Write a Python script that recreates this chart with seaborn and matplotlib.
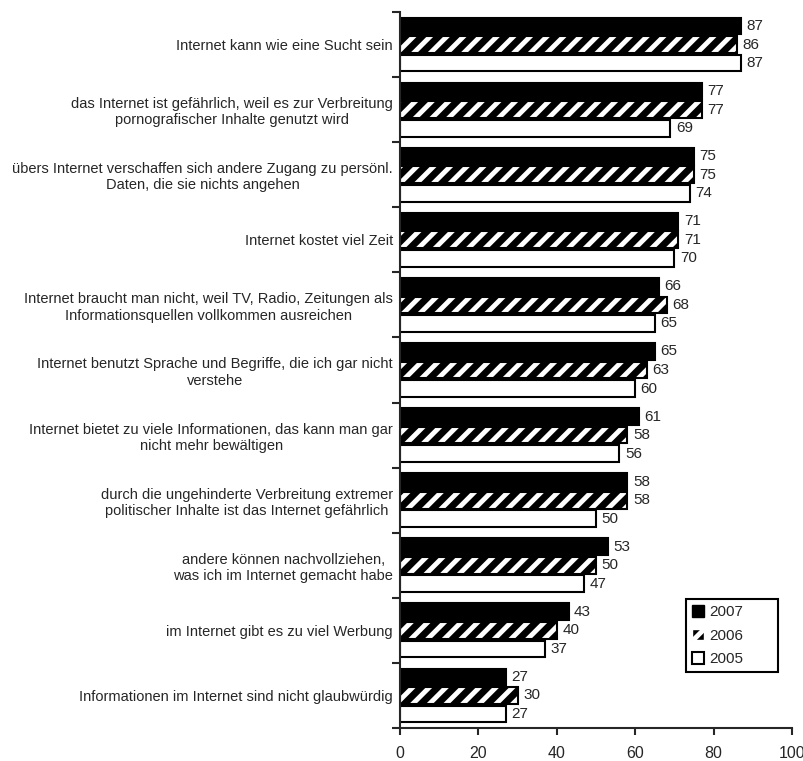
import matplotlib
matplotlib.use("Agg")
import matplotlib.pyplot as plt
from matplotlib.patches import Patch, Rectangle
import seaborn as sns
import pandas as pd

# data (percent)
labels = [
    "Internet kann wie eine Sucht sein",
    "das Internet ist gefährlich, weil es zur Verbreitung\npornografischer Inhalte genutzt wird",
    "übers Internet verschaffen sich andere Zugang zu persönl.\nDaten, die sie nichts angehen",
    "Internet kostet viel Zeit",
    "Internet braucht man nicht, weil TV, Radio, Zeitungen als\nInformationsquellen vollkommen ausreichen",
    "Internet benutzt Sprache und Begriffe, die ich gar nicht\nverstehe",
    "Internet bietet zu viele Informationen, das kann man gar\nnicht mehr bewältigen",
    "durch die ungehinderte Verbreitung extremer\npolitischer Inhalte ist das Internet gefährlich",
    "andere können nachvollziehen,\nwas ich im Internet gemacht habe",
    "im Internet gibt es zu viel Werbung",
    "Informationen im Internet sind nicht glaubwürdig",
]
v2007 = [87, 77, 75, 71, 66, 65, 61, 58, 53, 43, 27]
v2006 = [86, 77, 75, 71, 68, 63, 58, 58, 50, 40, 30]
v2005 = [87, 69, 74, 70, 65, 60, 56, 50, 47, 37, 27]
years = ["2007", "2006", "2005"]

df = pd.DataFrame({
    "item": labels * 3,
    "wert": v2007 + v2006 + v2005,
    "jahr": ["2007"] * 11 + ["2006"] * 11 + ["2005"] * 11,
})

sns.set_style("ticks")
plt.rcParams["font.family"] = ["Liberation Sans", "DejaVu Sans"]
plt.rcParams["hatch.linewidth"] = 3.5

fig = plt.figure(figsize=(8.04, 7.61), dpi=100)
ax = fig.add_axes([0.4975, 0.0434, 0.4875, 0.9408])

sns.barplot(data=df, y="item", x="wert", hue="jahr", hue_order=years,
            palette=["black", "black", "white"], order=labels,
            width=0.855, orient="h", ax=ax, legend=False)

# styling per year: solid black, white stripes on black, white
for cont, yr in zip(ax.containers, years):
    for bar in cont:
        # small gap between the three bars of a group
        h = bar.get_height()
        bar.set_y(bar.get_y() + h * 0.05)
        bar.set_height(h * 0.9)
        if yr == "2006":
            bar.set_facecolor("black")
            bar.set_edgecolor("white")
            bar.set_hatch("//")
            bar.set_linewidth(0)
            ax.add_patch(Rectangle((bar.get_x(), bar.get_y()), bar.get_width(),
                                   bar.get_height(), fill=False,
                                   edgecolor="black", linewidth=1.5))
        else:
            bar.set_edgecolor("black")
            bar.set_linewidth(1.5)
    ax.bar_label(cont, padding=4, fontsize=11)

ax.set_xlim(0, 100)
ax.set_ylim(10.5, -0.5)
ax.set_xticks([0, 20, 40, 60, 80, 100])
ax.set_xlabel("")
ax.set_ylabel("")
ax.tick_params(axis="x", labelsize=11.5, length=5, width=1.5, pad=8)
ax.tick_params(axis="y", which="major", length=0, labelsize=10.5, pad=5)
ax.set_yticks([i + 0.5 for i in range(-1, 11)], minor=True)
ax.tick_params(axis="y", which="minor", length=6, width=1.5)
for t in ax.get_yticklabels():
    t.set_multialignment("center")

sns.despine(ax=ax)
for s in ["left", "bottom"]:
    ax.spines[s].set_linewidth(1.5)

handles = [
    Patch(facecolor="black", edgecolor="black", label="2007"),
    Patch(facecolor="black", edgecolor="white", hatch="/", label="2006"),
    Patch(facecolor="white", edgecolor="black", linewidth=1.5, label="2005"),
]
leg = ax.legend(handles=handles, loc="lower left", bbox_to_anchor=(0.73, 0.078, 0.234, 0.115),
                mode="expand", fontsize=11, handlelength=0.8, handleheight=0.8,
                handletextpad=0.3, labelspacing=0.6, fancybox=False,
                edgecolor="black", framealpha=1, borderaxespad=0)
leg.get_frame().set_linewidth(1.5)

fig.savefig("out.png", dpi=100)
